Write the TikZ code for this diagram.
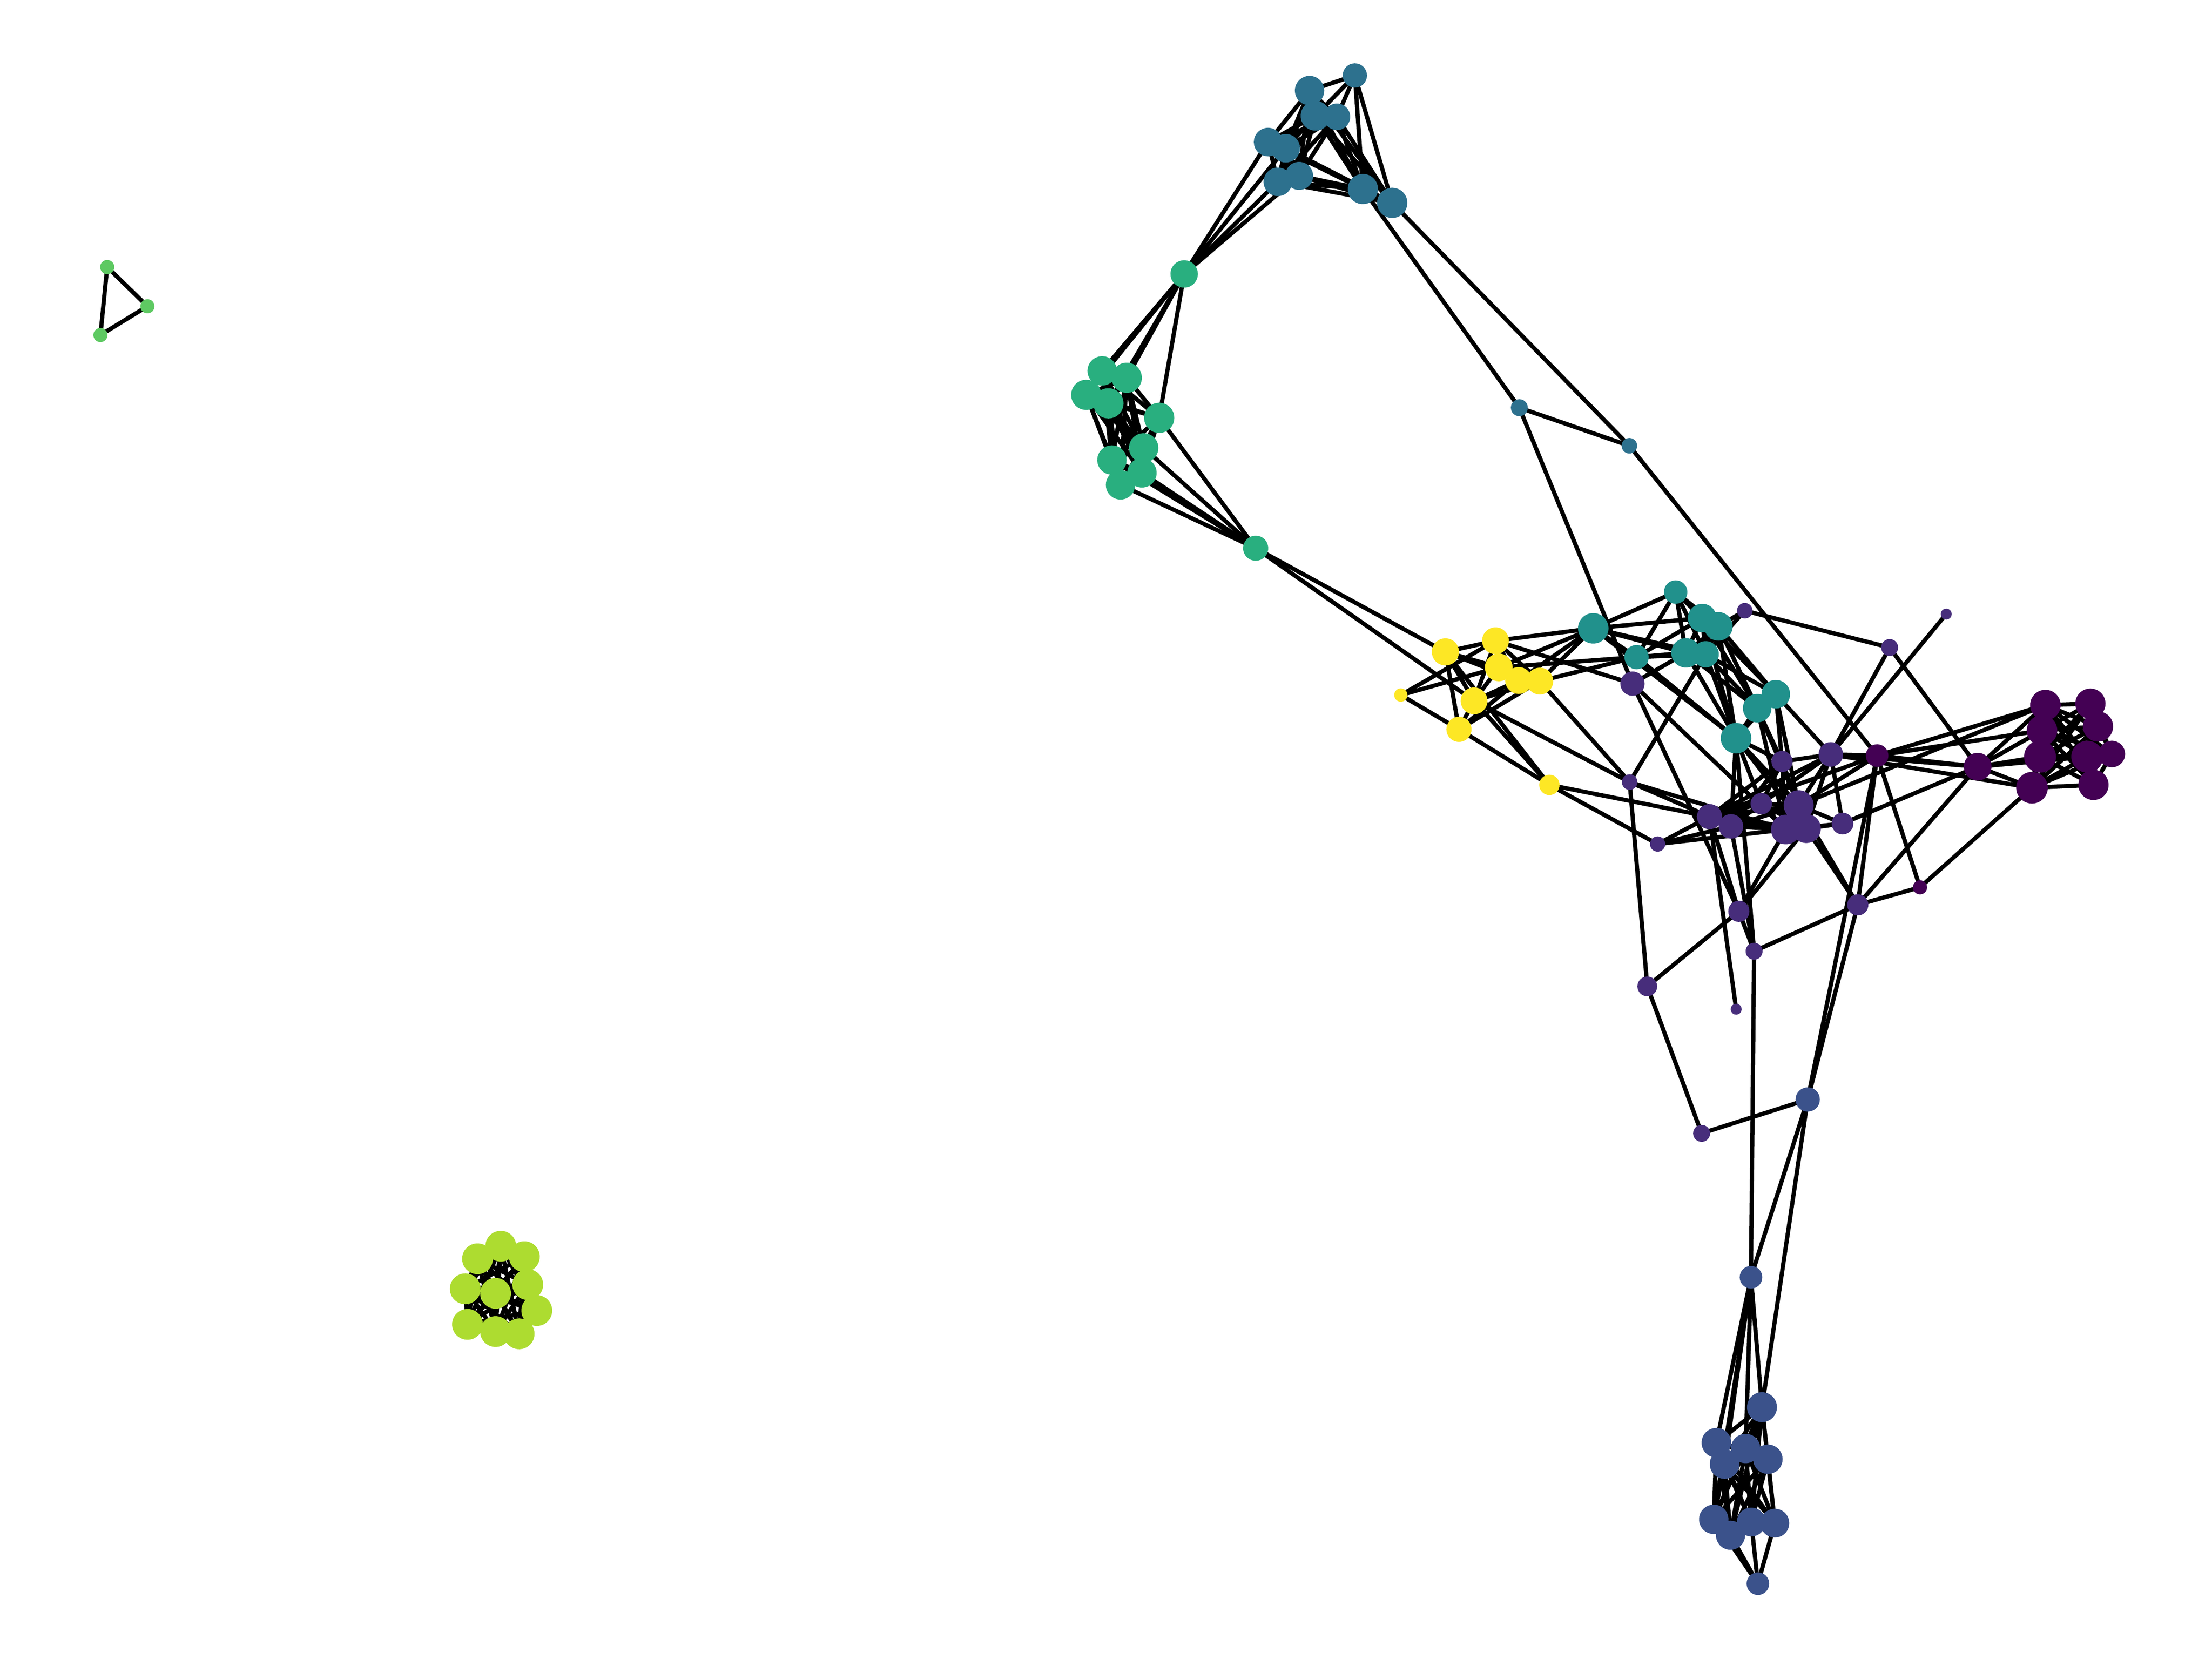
\documentclass[tikz,border=0pt]{standalone}
\usetikzlibrary{backgrounds}
\definecolor{cE}{HTML}{440154}
\definecolor{cQ}{HTML}{472D7B}
\definecolor{cB}{HTML}{3B528B}
\definecolor{cA}{HTML}{2D718E}
\definecolor{cT}{HTML}{21918C}
\definecolor{cG}{HTML}{29AF7F}
\definecolor{cK}{HTML}{5EC962}
\definecolor{cL}{HTML}{ADDC30}
\definecolor{cY}{HTML}{FDE725}
\begin{document}
\begin{tikzpicture}[x=0.01cm,y=-0.01cm,
  edge/.style={line width=0.85pt, draw=black},
  nd/.style={circle, inner sep=0pt, outer sep=0pt, draw=none}]
\useasboundingbox (0,0) rectangle (1568,1176);
% nodes: name/x/y/radius/colour
\foreach \n/\x/\y/\r/\c in {
 A1/960.4/53.5/8.6/cA, A2/928.3/64.2/10.4/cA, A3/932.5/82.1/10.5/cA, A4/947.7/82.8/9.4/cA,
 A5/898.9/100.7/10.1/cA, A6/911.4/105.1/10.1/cA, A7/905.8/128.9/10.1/cA, A8/920.9/124.7/9.9/cA,
 A9/966.1/134/10.7/cA, A10/986.9/143.8/10.7/cA, N1/1077/289/6/cA, N2/1155/316/5.5/cA,
 G0/839.4/194.2/9.7/cG, G1/781.3/262.9/10.4/cG, G2/798.7/267.8/10.7/cG, G3/770/279.9/10.7/cG,
 G4/785.7/285.9/10.7/cG, G5/821.7/296.2/10.7/cG, G6/810.7/317.5/10.4/cG, G7/788.2/326.1/10.4/cG,
 G8/809.5/335.2/10.4/cG, G9/794.3/343.7/10.4/cG, G10/890.1/388.6/8.9/cG,
 Y1/1024.6/462.1/9.6/cY, Y2/1060.1/454.2/9.5/cY, Y3/1062.4/473.1/9.8/cY, Y4/1076.5/482.4/9.5/cY,
 Y5/1091.5/482.8/9.5/cY, Y6/1044.9/496.8/9.5/cY, Y7/1034.2/517/8.9/cY, Y8/993/492.7/4.7/cY,
 Y9/1098.3/556.4/7.2/cY,
 T1/1129.4/445.4/10.8/cT, T2/1187.8/419.7/8.3/cT, T3/1160.1/465.8/8.6/cT, T4/1195.1/462.8/10.4/cT,
 T5/1206.6/438.1/10.1/cT, T6/1218.1/444/10.1/cT, T8/1209.1/463.8/9.3/cT, T9/1258.8/492.1/10.1/cT,
 T10/1245.6/502/10.1/cT, T11/1230.6/523.3/10.8/cT,
 Pp/1236.8/432.9/5.5/cQ, P1/1157.2/484.6/8.6/cQ, P2/1155.2/554.4/5.5/cQ,
 Q1/1263.2/539.8/7.5/cQ, Q2/1297.8/534.8/8.7/cQ, Q3/1248.5/569.7/7.6/cQ, Q4/1275/570.8/10.6/cQ,
 Q5/1211.8/578.9/8.9/cQ, Q6/1227/585.8/8.7/cQ, Q7/1265.9/588/10.5/cQ, Q8/1280.4/587.3/10.3/cQ,
 Q9/1306.1/583.8/7.7/cQ, Q10/1175/598.3/5.4/cQ, Q11/1232.6/646/7.5/cQ, Q12/1316.9/641.4/7.5/cQ,
 R2/1243.4/674.3/6/cQ, R3/1167.7/699.2/7/cQ, R4/1230.7/715.4/3.9/cQ, R5/1206.2/803.4/6/cQ,
 S1/1339.5/459/6/cQ, S2/1379.6/435.3/3.9/cQ,
 D1/1330.6/535.6/8/cE, D2/1361/629/5/cE, D3/1401.9/543.5/9.8/cE,
 E1/1449.9/499.8/10.8/cE, E2/1481.8/498.8/10.7/cE, E3/1447.5/517.8/10.8/cE, E4/1487.2/515/10.7/cE,
 E5/1446.1/536.4/11.3/cE, E6/1479.6/536.4/11.3/cE, E7/1497/534.5/9.4/cE, E8/1440.4/558.4/11.2/cE,
 E9/1484/556.4/10.7/cE,
 H0/1281.4/779.4/8.6/cB, H1/1241.2/905.4/8/cB,
 B1/1249/997.5/10.6/cB, B2/1216.7/1022.7/10.5/cB, B3/1237.4/1026.8/10.4/cB, B4/1222.5/1037.8/10.5/cB,
 B5/1253.2/1034.4/10.4/cB, B6/1214.8/1077/10.4/cB, B7/1226.7/1088.3/10.3/cB, B8/1241.4/1078.9/10.2/cB,
 B9/1258.1/1079.7/10.2/cB, B10/1246.1/1122.6/8/cB,
 L1/338.5/892.3/10.9/cL, L2/355/883.4/10.9/cL, L3/371.7/890.8/10.9/cL, L4/329.8/913.6/10.9/cL,
 L5/351.3/916.8/10.9/cL, L6/374.1/910.6/10.9/cL, L7/380.5/929/10.9/cL, L8/331.4/938.8/10.9/cL,
 L9/351.3/943.9/10.9/cL, L10/368/945.5/10.9/cL,
 K1/76/189.3/5/cK, K2/104.5/217.1/5/cK, K3/71.2/237.5/5/cK}
 \node[nd, fill=\c, minimum size={0.02cm*\r}] (\n) at (\x,\y) {};
\begin{scope}[on background layer]
% cliques
\foreach \i in {2,...,9} {\pgfmathtruncatemacro{\k}{\i+1}
  \foreach \j in {\k,...,10} \draw[edge] (A\i.center) -- (A\j.center);}
\foreach \i in {1,...,8} {\pgfmathtruncatemacro{\k}{\i+1}
  \foreach \j in {\k,...,9} {\draw[edge] (G\i.center) -- (G\j.center);
    \draw[edge] (E\i.center) -- (E\j.center);
    \draw[edge] (B\i.center) -- (B\j.center);}}
\foreach \i in {1,...,9} {\pgfmathtruncatemacro{\k}{\i+1}
  \foreach \j in {\k,...,10} \draw[edge] (L\i.center) -- (L\j.center);}
% other edges
\foreach \a/\b in {
 A1/A2, A1/A3, A1/A4, A1/A9, A1/A10,
 A5/G0, A6/G0, A7/G0, A8/G0, A9/N1, A10/N2, N1/N2, N1/P1, N2/D1,
 G0/G1, G0/G2, G0/G3, G0/G4, G0/G5,
 G10/G5, G10/G6, G10/G7, G10/G8, G10/G9, G10/Y1, G10/Y6,
 Y1/Y2, Y1/Y3, Y1/Y4, Y1/Y6, Y1/Y7, Y1/Y9,
 Y2/Y3, Y2/Y4, Y2/Y5, Y2/Y6, Y2/Y8, Y2/T1, Y2/P1,
 Y3/Y4, Y3/Y5, Y3/Y6, Y3/Y8, Y3/T1, Y3/T3,
 Y4/Y5, Y4/Y6, Y4/Y7, Y4/T1,
 Y5/Y6, Y5/Y7, Y5/T1, Y5/T3, Y5/P2,
 Y6/Y7, Y6/Y9, Y6/P2, Y7/Y8, Y7/Y9, Y9/Q5, Y9/Q10,
 T1/T2, T1/T3, T1/T4, T1/T5, T1/T8, T1/T11,
 T2/T3, T2/T4, T2/T5, T2/T6, T2/T8,
 T3/T4, T3/T5, T3/T8, T3/T11,
 T4/T5, T4/T6, T4/T8, T4/T10, T4/T11,
 T5/T6, T5/T8, T5/T9, T5/T10, T5/T11,
 T6/T8, T6/T9, T6/T10, T6/T11, T6/Pp,
 T8/T9, T8/T10, T8/T11, T8/Pp,
 T9/T10, T9/T11, T10/T11,
 P1/T4, P2/T8,
 T9/Q1, T9/Q4, T9/Q2, T10/Q1, T10/Q4, T10/Q7, T11/Q1, T11/Q3, T11/Q4, T11/Q8, T11/R2, T11/Q6,
 Pp/S1, S1/Q2, S1/D3, S2/Q2,
 P1/Q7, P1/Q11, P2/Q5, P2/Q7, P2/R3,
 Q1/Q2, Q1/Q3, Q1/Q4, Q1/Q5, Q1/Q6, Q1/Q7, Q1/Q8,
 Q2/Q3, Q2/Q4, Q2/Q5, Q2/Q8, Q2/Q9, Q2/D1, Q2/D3, Q2/E8,
 Q3/Q4, Q3/Q5, Q3/Q6, Q3/Q7, Q3/Q8,
 Q4/Q5, Q4/Q6, Q4/Q7, Q4/Q8, Q4/Q9, Q4/D1, Q4/E1, Q4/Q12,
 Q5/Q6, Q5/Q7, Q5/Q8, Q5/Q10, Q5/Q11, Q5/R4, Q5/D1,
 Q6/Q7, Q6/Q8, Q6/Q10, Q6/R2,
 Q7/Q8, Q7/Q9, Q7/Q11, Q7/Q10,
 Q8/Q9, Q8/Q11, Q8/Q12, Q9/D3,
 Q11/R2, Q11/R3,
 Q12/R2, Q12/D1, Q12/D2, Q12/D3, Q12/H0,
 R3/R5, R5/H0, R2/H1,
 D1/D2, D1/D3, D1/E1, D1/E3, D1/H0, D2/E8,
 D3/E1, D3/E3, D3/E5, D3/E8, D3/E6,
 H0/H1, H0/B1, H1/B1, H1/B2, H1/B3, H1/B4, H1/B6,
 B10/B6, B10/B7, B10/B8, B10/B9,
 K1/K2, K2/K3, K3/K1}
 \draw[edge] (\a.center) -- (\b.center);
\end{scope}
\end{tikzpicture}
\end{document}
